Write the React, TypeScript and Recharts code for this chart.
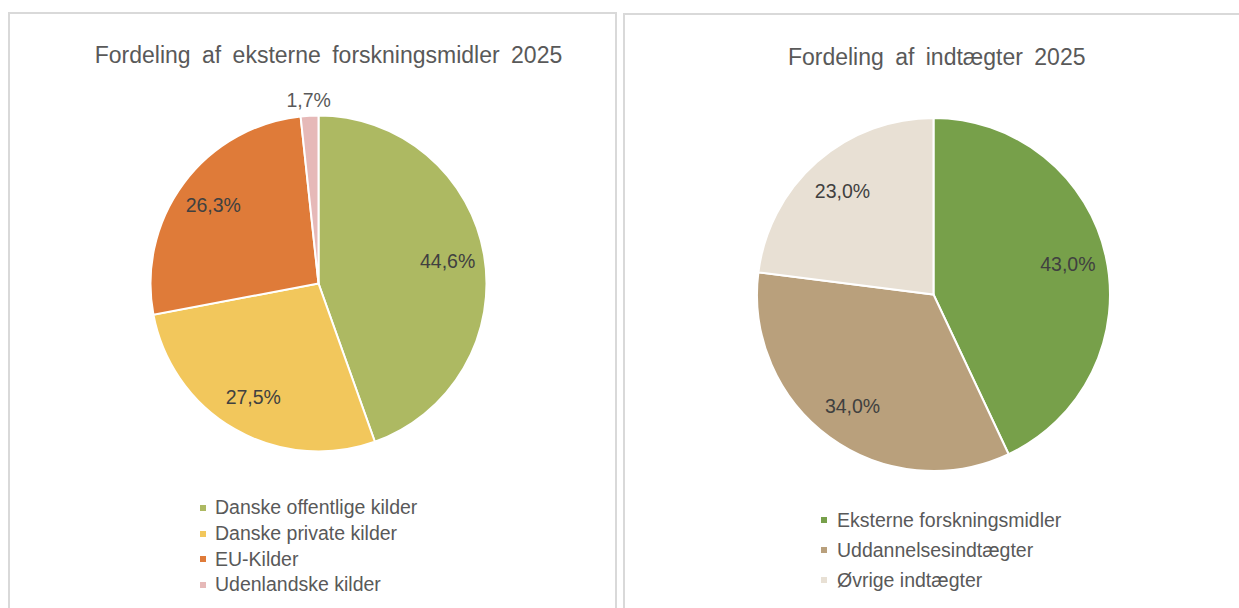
import React from "react";
import { PieChart, Pie, Cell, Legend } from "recharts";

const FONT = "'Liberation Sans', Arial, sans-serif";
const TEXT = "#595959";
const LABEL = "#404040";
const BORDER = "#d9d9d9";

// venstre: eksterne forskningsmidler
const leftTitle = "Fordeling af eksterne forskningsmidler 2025";
const leftNames = ["Danske offentlige kilder", "Danske private kilder", "EU-Kilder", "Udenlandske kilder"];
const leftValues = [44.6, 27.5, 26.3, 1.7];
const leftColors = ["#adb962", "#f2c75c", "#df7b39", "#e6b9b8"];

// højre: indtægter
const rightTitle = "Fordeling af indtægter 2025";
const rightNames = ["Eksterne forskningsmidler", "Uddannelsesindtægter", "Øvrige indtægter"];
const rightValues = [43.0, 34.0, 23.0];
const rightColors = ["#77a04a", "#b9a07c", "#e8e0d4"];

const RAD = Math.PI / 180;

const fmt = (v: number) => v.toFixed(1).replace(".", ",") + "%";

function renderLabel(props: any) {
  const { cx, cy, midAngle, outerRadius, value } = props;
  const r = value < 5 ? outerRadius + 16 : outerRadius * 0.78;
  const x = cx + r * Math.cos(-midAngle * RAD);
  const y = cy + r * Math.sin(-midAngle * RAD);
  return (
    <text
      x={x}
      y={y}
      fill={value < 5 ? TEXT : LABEL}
      textAnchor="middle"
      dominantBaseline="central"
      fontFamily={FONT}
      fontSize={19.5}
    >
      {fmt(value)}
    </text>
  );
}

function makeLegend(rowH: number, gap: number) {
  return (props: any) => {
    const payload = props.payload || [];
    return (
      <div style={{ fontFamily: FONT, fontSize: 19.5, color: TEXT }}>
        {payload.map((p: any, i: number) => (
          <div key={i} style={{ display: "flex", alignItems: "center", height: rowH, whiteSpace: "nowrap" }}>
            <span style={{ width: 6, height: 6, background: p.color, marginRight: gap, display: "inline-block" }} />
            <span>{p.value}</span>
          </div>
        ))}
      </div>
    );
  };
}

const panelStyle = (left: number, top: number, width: number): React.CSSProperties => ({
  position: "absolute",
  left,
  top,
  width,
  height: 640,
  boxSizing: "border-box",
  border: `2px solid ${BORDER}`,
  background: "#fff",
});

const titleStyle = (center: number, top: number): React.CSSProperties => ({
  position: "absolute",
  left: center - 310,
  top,
  width: 620,
  textAlign: "center",
  fontFamily: FONT,
  fontSize: 23,
  lineHeight: "23px",
  color: TEXT,
  wordSpacing: 5,
});

export default function App() {
  const left = leftNames.map((name, i) => ({ name, value: leftValues[i] }));
  const right = rightNames.map((name, i) => ({ name, value: rightValues[i] }));

  return (
    <div style={{ position: "absolute", left: 0, top: 0, width: 1239, height: 608, overflow: "hidden", background: "#fff" }}>
      <div style={panelStyle(8, 12, 609)} />
      <div style={panelStyle(623, 13, 700)} />

      <div style={titleStyle(328.5, 44)}>{leftTitle}</div>
      <div style={titleStyle(936.7, 46)}>{rightTitle}</div>

      <div style={{ position: "absolute", left: 0, top: 0 }}>
        <PieChart width={620} height={608} margin={{ top: 0, right: 0, bottom: 0, left: 0 }}>
          <Pie
            data={left}
            dataKey="value"
            nameKey="name"
            cx={318.5}
            cy={283.5}
            outerRadius={168}
            startAngle={90}
            endAngle={-270}
            stroke="#fff"
            strokeWidth={2}
            label={renderLabel}
            labelLine={false}
            isAnimationActive={false}
          >
            {left.map((d, i) => (
              <Cell key={d.name} fill={leftColors[i]} />
            ))}
          </Pie>
          <Legend
            layout="vertical"
            align="center"
            verticalAlign="middle"
            content={makeLegend(25.7, 9)}
            wrapperStyle={{ left: 200, top: 495, width: 300 }}
          />
        </PieChart>
      </div>

      <div style={{ position: "absolute", left: 620, top: 0 }}>
        <PieChart width={619} height={608} margin={{ top: 0, right: 0, bottom: 0, left: 0 }}>
          <Pie
            data={right}
            dataKey="value"
            nameKey="name"
            cx={313.5}
            cy={294.5}
            outerRadius={176.5}
            startAngle={90}
            endAngle={-270}
            stroke="#fff"
            strokeWidth={2}
            label={renderLabel}
            labelLine={false}
            isAnimationActive={false}
          >
            {right.map((d, i) => (
              <Cell key={d.name} fill={rightColors[i]} />
            ))}
          </Pie>
          <Legend
            layout="vertical"
            align="center"
            verticalAlign="middle"
            content={makeLegend(30, 10)}
            wrapperStyle={{ left: 201, top: 505, width: 320 }}
          />
        </PieChart>
      </div>
    </div>
  );
}
